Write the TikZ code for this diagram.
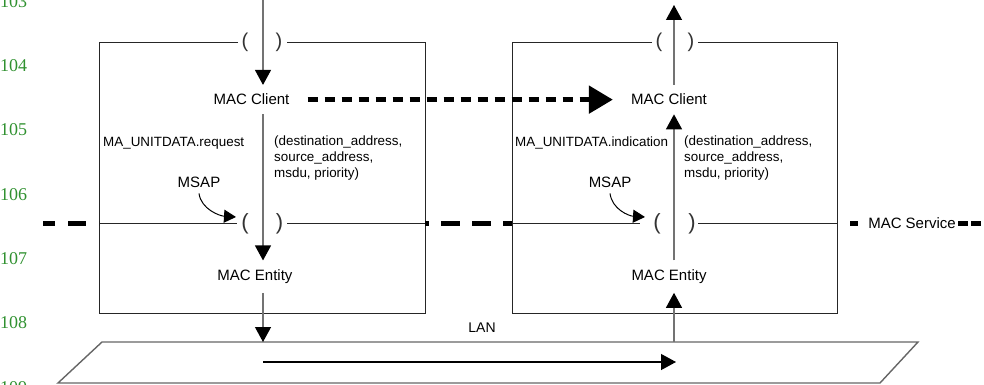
\documentclass[tikz,border=0pt]{standalone}
\usepackage{fontspec}
\setmainfont{Liberation Sans}
\newfontfamily\numfont{Liberation Serif}
\usetikzlibrary{arrows.meta}
\definecolor{numgreen}{RGB}{48,145,48}
\begin{document}
\begin{tikzpicture}[x=1pt,y=-1pt,
  boxline/.style={draw=black!85, line width=0.9pt},
  axisline/.style={draw=black!55, line width=1.2pt},
  lanline/.style={draw=black!60, line width=1.4pt},
  tipsmall/.style={-{Triangle[length=15pt,width=16pt,color=black]}},
  tipmsap/.style={-{Triangle[length=12pt,width=13pt,color=black]}},
  tipbig/.style={-{Triangle[length=24pt,width=27pt,color=black]}},
  lbl/.style={font=\fontsize{15}{18}\selectfont, inner xsep=0pt, inner ysep=9pt, anchor=base},
  msap/.style={font=\fontsize{15}{18}\selectfont, inner xsep=0pt, inner ysep=6pt, anchor=base},
  small/.style={font=\fontsize{13.4}{16}\selectfont, inner sep=0pt, align=left},
  paren/.style={font=\fontsize{20}{24}\selectfont, inner sep=0pt, text=black!80},
  bigparen/.style={font=\fontsize{22}{26}\selectfont, inner sep=0pt, text=black!80},
  service/.style={draw=black, line width=4.5pt},
  clientflow/.style={draw=black, line width=5pt, dash pattern=on 10pt off 7pt},
  linenum/.style={font=\numfont\fontsize{18}{20}\selectfont, text=numgreen, inner sep=0pt, anchor=west}
]
\useasboundingbox (0,0) rectangle (984,385);

% line numbers in the margin
\foreach \n/\y in {103/2,104/66,105/130,106/195,107/259,108/323,109/388}
  \node[linenum] (ln\n) at (0,\y) {\n};

% axes of the two stations
\coordinate (axL) at (263,0);
\coordinate (axR) at (674,5);

% LAN medium
\coordinate (lanTL) at (102,342);
\coordinate (lanTR) at (918,342);
\coordinate (lanBR) at (880,383);
\coordinate (lanBL) at (58,383);
\draw[lanline] (lanTL) -- (lanTR) -- (lanBR) -- (lanBL) -- cycle;
\node[font=\fontsize{14}{16}\selectfont, inner sep=0pt, anchor=base] (lan) at (482,332) {LAN};
\coordinate (flowS) at (263,362);
\coordinate (flowE) at (676,362);
\draw[draw=black, line width=1.2pt, tipsmall] (flowS) -- (flowE);

% left station frame
\draw[boxline] (238,42) -- (99,42) -- (99,313) -- (425,313) -- (425,42) -- (287,42);
\draw[boxline] (99,223.5) -- (237,223.5);
\draw[boxline] (287,223.5) -- (425,223.5);
\node[paren] (ptl1) at (245,42) {(};
\node[paren] (ptl2) at (279,42) {)};
\node[bigparen] (pml1) at (245,224) {(};
\node[bigparen] (pml2) at (279.5,224) {)};

% right station frame
\draw[boxline] (652,42) -- (512,42) -- (512,313) -- (837,313) -- (837,42) -- (698,42);
\draw[boxline] (512,223.5) -- (640,223.5);
\draw[boxline] (698,223.5) -- (837,223.5);
\node[paren] (ptr1) at (659,42) {(};
\node[paren] (ptr2) at (691,42) {)};
\node[bigparen] (pmr1) at (657,224) {(};
\node[bigparen] (pmr2) at (692,224) {)};

% MAC service boundary
\draw[service, dash pattern=on 12pt off 13pt on 18pt off 13pt] (43,223.5) -- (99,223.5);
\draw[service, dash pattern=on 19pt off 12pt, dash phase=15pt] (425,223.5) -- (512,223.5);
\draw[service] (850,223.5) -- (858,223.5);
\node[font=\fontsize{15}{18}\selectfont, inner sep=0pt, anchor=base] (svc) at (912,228.5) {MAC Service};
\draw[service, dash pattern=on 10pt off 3pt] (958,223.5) -- (984,223.5);

% labels of the left station
\node[lbl] (lc1) at (251.5,105) {MAC Client};
\node[lbl] (le1) at (255,280.5) {MAC Entity};
\node[small, anchor=base west] (reqL) at (103,146) {MA\_UNITDATA.request};
\node[small, anchor=north west] (parL) at (274,136) {(destination\_address,\\source\_address,\\msdu, priority)};
\node[msap] (msapL) at (199,187) {MSAP};

% labels of the right station
\node[lbl] (rc1) at (669,105) {MAC Client};
\node[lbl] (re1) at (669,280.5) {MAC Entity};
\node[small, anchor=base west] (indR) at (515,146) {MA\_UNITDATA.indication};
\node[small, anchor=north west] (parR) at (684,136) {(destination\_address,\\source\_address,\\msdu, priority)};
\node[msap] (msapR) at (610,187) {MSAP};

% request path, left station
\draw[axisline, tipsmall] (axL) -- (lc1.north -| axL);
\draw[axisline, tipsmall] (lc1.south -| axL) -- (le1.north -| axL);
\draw[axisline, tipsmall] (le1.south -| axL) -- (lanTL -| axL);

% indication path, right station
\draw[axisline, tipsmall] (lanTL -| axR) -- (re1.south -| axR);
\draw[axisline, tipsmall] (re1.north -| axR) -- (rc1.south -| axR);
\draw[axisline, tipsmall] (rc1.north -| axR) -- (axR);

% peer-to-peer client flow
\draw[clientflow, tipbig, shorten <=18pt, shorten >=18pt] (lc1.east) -- (rc1.west);

% service access point pointers
\coordinate (msapTipL) at (236,217);
\coordinate (msapTipR) at (645,217);
\draw[draw=black, line width=1pt, tipmsap] (msapL.south) .. controls +(2,16) and +(-16,-1) .. (msapTipL);
\draw[draw=black, line width=1pt, tipmsap] (msapR.south) .. controls +(2,16) and +(-16,-1) .. (msapTipR);
\end{tikzpicture}
\end{document}
